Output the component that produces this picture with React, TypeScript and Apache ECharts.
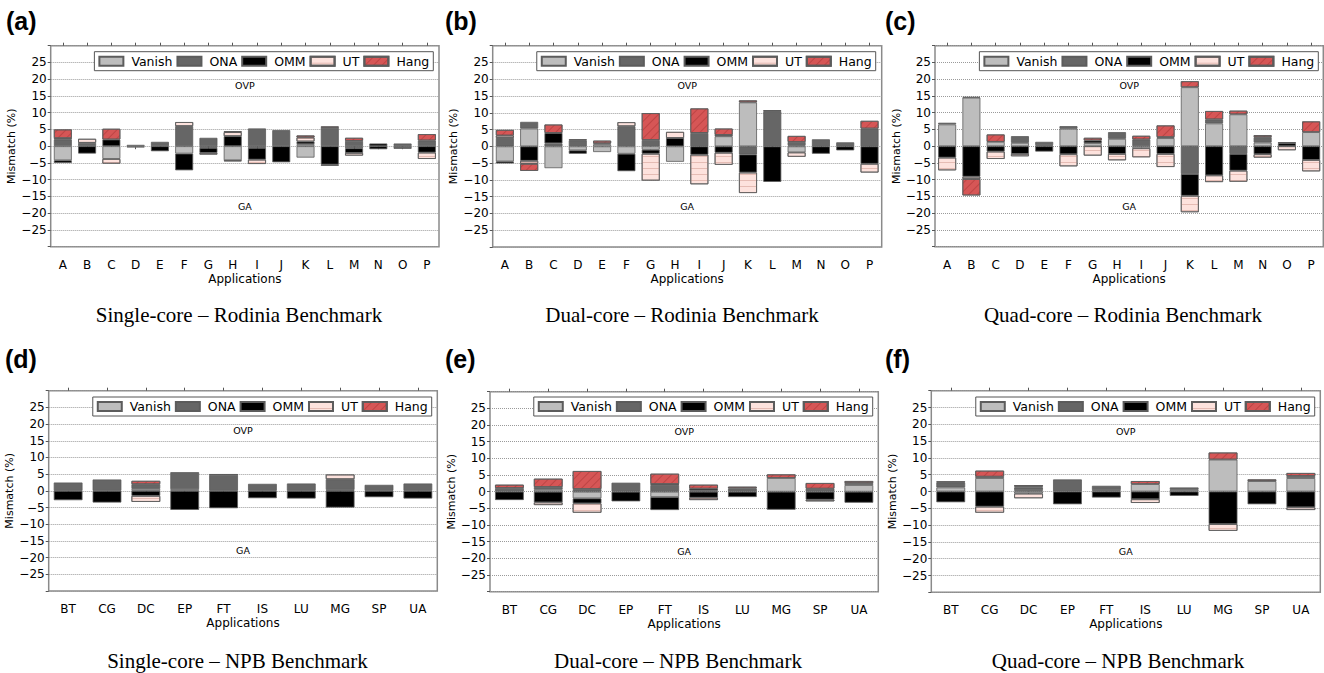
import React, { useEffect, useRef } from 'react';
import * as echarts from 'echarts';

// ---------- categories ----------
const rodiniaApps = ['A', 'B', 'C', 'D', 'E', 'F', 'G', 'H', 'I', 'J', 'K', 'L', 'M', 'N', 'O', 'P'];
const npbApps = ['BT', 'CG', 'DC', 'EP', 'FT', 'IS', 'LU', 'MG', 'SP', 'UA'];
const outcomes = ['Vanish', 'ONA', 'OMM', 'UT', 'Hang'];

// ---------- values: each row = [Vanish, ONA, OMM, UT, Hang] per application ----------
// (a) Single-core Rodinia
const singleRodiniaOVP = [
  [0, 2.0, 0, 0.4, 2.6], [0, 1.0, 0, 1.2, 0], [0, 0, 2.0, 0, 3.2], [0.4, 0, 0, 0, 0],
  [0, 1.3, 0, 0, 0], [0, 6.0, 0, 1.2, 0], [0, 2.5, 0, 0, 0], [0, 0, 3.0, 1.2, 0.3],
  [0, 5.3, 0, 0, 0], [0, 4.8, 0, 0, 0], [0.6, 0, 0.8, 1.2, 0.6], [0, 5.5, 0, 0, 0.4],
  [0, 1.6, 0, 0, 0.9], [0, 0, 0.8, 0, 0], [0, 0.8, 0, 0, 0], [0, 1.7, 0, 0, 1.9],
];
const singleRodiniaGA = [
  [-4.2, 0, -0.8, 0, 0], [0, 0, -2.2, 0, 0], [-3.8, 0, 0, -1.4, 0], [-0.4, 0, 0, 0, 0],
  [0, 0, -1.5, 0, 0], [-2.2, 0, -5.0, 0, 0], [0, -0.5, -1.5, -0.5, 0], [-4.2, 0, 0, 0, -0.3],
  [0, -0.5, -3.5, -1.3, 0], [0, 0, -4.8, 0, 0], [-3.4, 0, 0, 0, 0], [0, 0, -5.5, -0.3, 0],
  [0, -0.6, -1.4, -0.8, 0], [0, 0, -0.9, 0, 0], [0, -0.8, 0, 0, 0], [0, 0, -1.9, -1.9, 0],
];
// (b) Dual-core Rodinia
const dualRodiniaOVP = [
  [0, 2.5, 0, 0.7, 1.7], [5.3, 2.0, 0, 0, 0], [0, 0.9, 3.1, 0, 2.5], [0, 1.8, 0, 0, 0.3],
  [0.6, 0, 0.3, 0, 0.8], [0, 6.0, 0, 1.2, 0], [0, 1.9, 0, 0, 8.0], [0, 0, 2.5, 1.8, 0],
  [0, 4.0, 0, 0, 7.3], [3.0, 0, 0, 0.4, 1.9], [13.1, 0, 0, 0, 0.6], [0, 10.5, 0, 0, 0.3],
  [0.3, 1.0, 0, 0, 1.8], [0, 2.1, 0, 0, 0], [0, 1.2, 0, 0, 0], [0, 5.3, 0, 0, 2.3],
];
const dualRodiniaGA = [
  [-4.5, 0, -0.6, 0, 0], [0, 0, -4.3, -0.9, -2.1], [-6.5, 0, 0, 0, 0], [-1.2, 0, -1.0, 0, 0],
  [-1.7, 0, 0, 0, 0], [-2.2, 0, -5.2, 0, 0], [-1.0, 0, -1.2, -8.0, 0], [-4.6, 0, 0, 0, 0],
  [0, 0, -2.5, -8.8, 0], [0, 0, -1.9, -3.6, 0], [0, -2.4, -5.4, -6.1, 0], [0, 0, -10.6, 0, 0],
  [-1.8, 0, 0, -1.3, 0], [0, 0, -2.2, 0, 0], [0, 0, -1.2, 0, 0], [0, 0, -5.2, -2.6, 0],
];
// (c) Quad-core Rodinia
const quadRodiniaOVP = [
  [6.5, 0.5, 0, 0, 0], [14.5, 0, 0.2, 0, 0], [1.3, 0, 0, 0, 2.2], [1.0, 2.0, 0, 0, 0],
  [0.3, 1.0, 0, 0, 0], [5.2, 0.8, 0, 0, 0], [0.9, 0, 0.8, 0, 0.8], [2.2, 2.0, 0, 0, 0],
  [0, 2.0, 0, 0, 1.1], [2.4, 0.3, 0, 0, 3.5], [17.6, 0, 0, 0, 1.8], [6.8, 1.2, 0, 0, 2.5],
  [9.5, 0, 0, 0, 1.1], [1.1, 1.6, 0, 0, 0.6], [0, 0, 0.9, 0, 0.3], [4.2, 0, 0, 0, 3.2],
];
const quadRodiniaGA = [
  [0, 0, -3.4, -3.8, 0], [0, 0, -9.1, -0.7, -4.9], [0, 0, -1.6, -2.2, 0], [0, 0, -2.3, -0.7, 0],
  [0, 0, -1.6, 0, 0], [0, 0, -2.4, -3.6, 0], [0, 0, 0, -2.8, 0], [0, 0, -2.3, -1.9, 0],
  [-0.6, 0, 0, -2.7, 0], [0, 0, -2.3, -3.9, 0], [0, -8.3, -6.5, -4.9, 0], [0, 0, -8.7, -2.0, 0],
  [0, -2.3, -5.0, -3.3, 0], [0, 0, -2.4, -1.0, 0], [0, 0, 0, -1.2, 0], [0, 0, -4.1, -3.4, 0],
];
// (d) Single-core NPB
const singleNpbOVP = [
  [0, 2.5, 0, 0, 0], [0, 3.4, 0, 0, 0], [0.6, 1.4, 0, 0, 1.0], [0.5, 5.1, 0, 0, 0], [0, 4.8, 0, 0.2, 0],
  [0, 2.1, 0, 0, 0], [0, 2.2, 0, 0, 0], [0.3, 3.2, 0, 1.4, 0], [0, 1.8, 0, 0, 0], [0, 2.2, 0, 0, 0],
];
const singleNpbGA = [
  [0, 0, -2.8, 0, 0], [0, 0, -3.5, 0, 0], [0, 0, -1.5, -1.8, 0], [0, 0, -5.7, 0, 0], [0, 0, -5.2, 0, 0],
  [0, 0, -2.2, 0, 0], [0, 0, -2.3, 0, 0], [0, 0, -5.0, 0, 0], [0, 0, -1.9, 0, 0], [0, 0, -2.3, 0, 0],
];
// (e) Dual-core NPB
const dualNpbOVP = [
  [0, 1.1, 0, 0, 1.0], [0.6, 0.8, 0, 0, 2.5], [0, 0.8, 0, 0, 5.4], [0, 2.7, 0, 0, 0], [0, 2.0, 0, 0.3, 3.1],
  [0, 0.3, 0.6, 0, 1.2], [0, 1.0, 0, 0, 0.5], [4.1, 0, 0, 0, 1.1], [0, 0.9, 0, 0, 1.7], [2.0, 0.6, 0, 0, 0.6],
];
const dualNpbGA = [
  [0, 0, -2.5, 0, 0], [0, 0, -3.2, -0.8, 0], [-2.0, 0, -1.5, -2.8, 0], [0, 0, -2.9, 0, 0], [-1.6, 0, -3.9, 0, 0],
  [0, 0, -1.8, -0.7, 0], [0, 0, -1.6, 0, 0], [0, 0, -5.4, 0, 0], [0, 0, -2.4, -0.5, 0], [0, 0, -3.3, 0, 0],
];
// (f) Quad-core NPB
const quadNpbOVP = [
  [1.2, 1.5, 0, 0, 0.3], [4.0, 0.4, 0, 0, 1.8], [0.4, 0.8, 0.3, 0, 0.4], [0, 3.6, 0, 0, 0], [0.4, 1.3, 0, 0, 0],
  [2.2, 0, 0, 0, 0.9], [0.5, 0.7, 0, 0, 0], [9.5, 0, 0, 0, 2.1], [3.1, 0, 0, 0, 0.5], [4.0, 0.6, 0, 0, 0.9],
];
const quadNpbGA = [
  [0, 0, -3.2, 0, 0], [0, 0, -4.5, -1.8, 0], [-0.6, 0, 0, -1.4, 0], [0, 0, -3.8, 0, 0], [0, 0, -1.8, 0, 0],
  [0, 0, -2.3, -1.1, 0], [0, 0, -1.3, 0, 0], [0, 0, -9.7, -2.0, 0], [0, 0, -3.8, 0, 0], [0, 0, -4.7, -0.8, 0],
];

const panels = [
  { tag: '(a)', title: 'Single-core – Rodinia Benchmark', apps: rodiniaApps, ovp: singleRodiniaOVP, ga: singleRodiniaGA },
  { tag: '(b)', title: 'Dual-core – Rodinia Benchmark', apps: rodiniaApps, ovp: dualRodiniaOVP, ga: dualRodiniaGA },
  { tag: '(c)', title: 'Quad-core – Rodinia Benchmark', apps: rodiniaApps, ovp: quadRodiniaOVP, ga: quadRodiniaGA },
  { tag: '(d)', title: 'Single-core – NPB Benchmark', apps: npbApps, ovp: singleNpbOVP, ga: singleNpbGA },
  { tag: '(e)', title: 'Dual-core – NPB Benchmark', apps: npbApps, ovp: dualNpbOVP, ga: dualNpbGA },
  { tag: '(f)', title: 'Quad-core – NPB Benchmark', apps: npbApps, ovp: quadNpbOVP, ga: quadNpbGA },
];

// ---------- layout ----------
const gridRects = [
  [50.7, 45.7, 388.3, 201],
  [492.7, 45.7, 389, 201.3],
  [935, 45.7, 388.3, 201],
  [48.7, 390.7, 388.6, 200.3],
  [490, 391.7, 388.3, 200],
  [931.3, 390.7, 389, 201.6],
];
const legendRight = [890.7, 448.3, 5.7, 892.3, 451.3, 9.3];
const legendTop = [51.7, 51.7, 51.7, 397, 397, 397];
const tagPos = [[6, 21], [445, 21], [885, 21], [5, 359], [445, 359], [885, 359]];
const titlePos = [[239, 315], [682, 315], [1123, 315], [237.5, 660.7], [678, 660.7], [1118, 660.7]];

const colors = ['#bdbdbd', '#666666', '#000000', '#fde2dd', '#d65656'];
const decals: any[] = [
  null,
  null,
  null,
  { symbol: 'rect', symbolSize: 1, dashArrayX: [1, 0], dashArrayY: [1, 5], rotation: 0, color: 'rgba(205,150,140,0.5)' },
  { symbol: 'rect', symbolSize: 1, dashArrayX: [1, 0], dashArrayY: [1, 5], rotation: -Math.PI / 4, color: 'rgba(150,40,40,0.38)' },
];

const SANS = 'DejaVu Sans';

function fmtTick(v: number) {
  if (Math.abs(v) >= 30) return '';
  return v < 0 ? '\u2212' + String(-v) : String(v);
}

function buildOption() {
  const grid: any[] = [];
  const xAxis: any[] = [];
  const yAxis: any[] = [];
  const legend: any[] = [];
  const series: any[] = [];

  panels.forEach((p, i) => {
    const [l, t, w, h] = gridRects[i];
    grid.push({ left: l, top: t, width: w, height: h, show: true, borderColor: '#8a8a8a', borderWidth: 1.5, backgroundColor: 'transparent' });
    xAxis.push({
      type: 'category', gridIndex: i, data: p.apps, position: 'bottom',
      axisLine: { show: false },
      axisTick: { show: true, alignWithLabel: true, length: 3, lineStyle: { color: '#555' } },
      axisLabel: { fontSize: 12, fontFamily: SANS, color: '#000', margin: 12 },
      name: 'Applications', nameLocation: 'middle', nameGap: 26,
      nameTextStyle: { fontSize: 12, fontFamily: SANS, color: '#000' },
      splitLine: { show: false },
    });
    xAxis.push({
      type: 'category', gridIndex: i, data: p.apps, position: 'top',
      axisLine: { show: false },
      axisTick: { show: true, alignWithLabel: true, length: 3, lineStyle: { color: '#555' } },
      axisLabel: { show: false },
      splitLine: { show: false },
    });
    yAxis.push({
      type: 'value', gridIndex: i, min: -30, max: 30, interval: 5,
      axisLine: { show: false },
      axisTick: { show: true, length: 3, lineStyle: { color: '#555' } },
      axisLabel: { fontSize: 12, fontFamily: SANS, color: '#000', margin: 4, formatter: fmtTick, showMinLabel: true, showMaxLabel: true },
      splitLine: { show: true, lineStyle: { type: 'dotted', color: '#9a9a9a', width: 1 } },
      name: 'Mismatch (%)', nameLocation: 'middle', nameGap: 30,
      nameTextStyle: { fontSize: 11, fontFamily: SANS, color: '#000' },
    });
    legend.push({
      data: outcomes, right: legendRight[i], top: legendTop[i], orient: 'horizontal', icon: 'rect',
      itemWidth: 24, itemHeight: 9, itemGap: 4, padding: [3, 4],
      borderColor: '#555', borderWidth: 1, backgroundColor: '#fff',
      selectedMode: false,
      textStyle: { fontFamily: SANS, fontSize: 12.5, color: '#000', padding: [0, 0, 0, 3] },
    });
    [p.ovp, p.ga].forEach((rows) => {
      outcomes.forEach((name, k) => {
        series.push({
          type: 'bar', name, xAxisIndex: i * 2, yAxisIndex: i, stack: 'st' + i,
          barWidth: '74%', silent: true,
          data: rows.map((r) => (r[k] === 0 ? '-' : r[k])),
          itemStyle: {
            color: colors[k], borderColor: '#5c5c5c', borderWidth: 0.8,
            ...(decals[k] ? { decal: decals[k] } : {}),
          },
          emphasis: { disabled: true },
        });
      });
    });
  });

  return {
    animation: false,
    backgroundColor: '#ffffff',
    aria: { enabled: false },
    grid, xAxis, yAxis, legend, series,
  };
}

export default function App() {
  const ref = useRef<HTMLDivElement>(null);
  useEffect(() => {
    if (!ref.current) return;
    const chart = echarts.init(ref.current, null, { renderer: 'svg' });
    chart.setOption(buildOption() as any);
    const g: any[] = [];
    panels.forEach((p, i) => {
      const [l, , w] = gridRects[i];
      const cx = l + w / 2;
      const yO = chart.convertToPixel({ yAxisIndex: i } as any, 18) as unknown as number;
      const yG = chart.convertToPixel({ yAxisIndex: i } as any, -18) as unknown as number;
      g.push({ type: 'text', x: cx, y: yO, silent: true, style: { text: 'OVP', fontSize: 9.5, fontFamily: SANS, fill: '#000', align: 'center', verticalAlign: 'middle' } });
      g.push({ type: 'text', x: cx, y: yG, silent: true, style: { text: 'GA', fontSize: 9.5, fontFamily: SANS, fill: '#000', align: 'center', verticalAlign: 'middle' } });
      g.push({ type: 'text', x: tagPos[i][0], y: tagPos[i][1], silent: true, style: { text: p.tag, fontSize: 25, fontWeight: 'bold', fontFamily: 'Liberation Sans', fill: '#000', align: 'left', verticalAlign: 'middle' } });
      g.push({ type: 'text', x: titlePos[i][0], y: titlePos[i][1], silent: true, style: { text: p.title, fontSize: 21, fontFamily: 'Liberation Serif', fill: '#000', align: 'center', verticalAlign: 'middle' } });
    });
    chart.setOption({ graphic: g });
    return () => chart.dispose();
  }, []);
  return <div ref={ref} style={{ position: 'fixed', left: 0, top: 0, width: 1324, height: 673, background: '#fff' }} />;
}
